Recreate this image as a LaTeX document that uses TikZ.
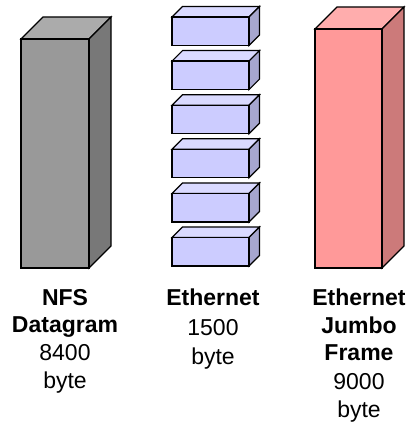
\documentclass[tikz,border=0pt]{standalone}
\usepackage{fontspec}
\setmainfont{Liberation Sans}
\definecolor{nfsfront}{HTML}{999999}
\definecolor{nfstop}{HTML}{ABABAB}
\definecolor{nfsside}{HTML}{787878}
\definecolor{ethfront}{HTML}{CCCCFF}
\definecolor{ethtop}{HTML}{DADAFF}
\definecolor{ethside}{HTML}{A6A6CF}
\definecolor{jumbofront}{HTML}{FF9999}
\definecolor{jumbotop}{HTML}{FFADAD}
\definecolor{jumboside}{HTML}{CC7A7A}
\tikzset{
  face/.style={draw=black, line width=1.2pt},
  caption/.style={align=center, anchor=north, inner sep=0pt,
    font=\fontsize{23}{27.5}\selectfont}
}
% front corners (#1,#2) (#3,#4), depth #5, colour prefix #6
\newcommand{\prism}[6]{
  \filldraw[face, fill=#6top] (#1,#2) -- ++(#5,-#5) -- (#3+#5,#2-#5) -- (#3,#2) -- cycle;
  \filldraw[face, fill=#6side] (#3,#2) -- ++(#5,-#5) -- (#3+#5,#4-#5) -- (#3,#4) -- cycle;
  \filldraw[face, fill=#6front] (#1,#2) rectangle (#3,#4);
}
\begin{document}
\begin{tikzpicture}[x=1pt,y=-1pt]
  \useasboundingbox (0,0) rectangle (410,425);
  \prism{21}{39}{89}{268}{22}{nfs}
  \foreach \i in {0,...,5}{
    \prism{172}{17+44.1*\i}{249}{45.5+44.1*\i}{10.5}{eth}
  }
  \prism{315}{29}{382}{268}{22}{jumbo}

  \node[caption] (nfs) at (65,289) {\textbf{NFS}\\\textbf{Datagram}\\8400\\[1pt]byte};
  \node[caption] (eth) at (213,289) {\textbf{Ethernet}\\[2pt]1500\\[2pt]byte};
  \node[caption] (jumbo) at (359,289) {\textbf{Ethernet}\\\textbf{Jumbo}\\\textbf{Frame}\\[1pt]9000\\[1pt]byte};
\end{tikzpicture}
\end{document}
